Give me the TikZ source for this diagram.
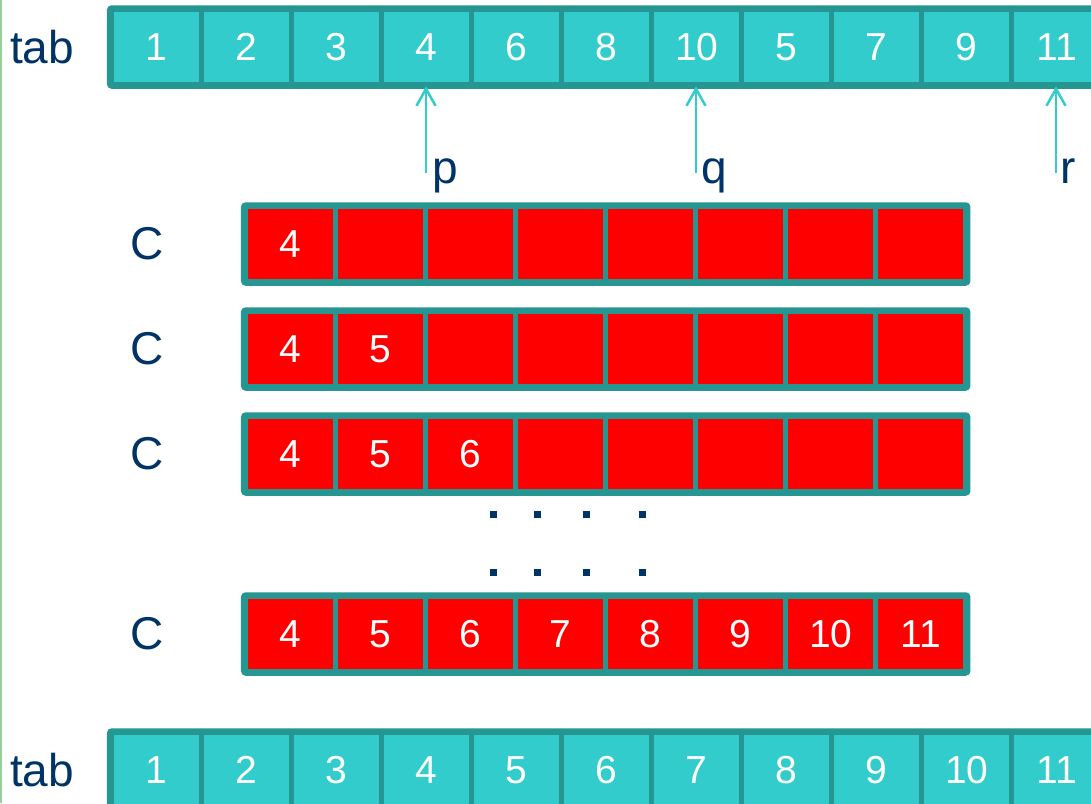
\documentclass[tikz,border=0pt]{standalone}
\usepackage{fontspec}
\setmainfont{Liberation Sans}
\usetikzlibrary{arrows.meta}
\definecolor{tealfill}{HTML}{33CCCC}
\definecolor{tealline}{HTML}{269692}
\definecolor{navy}{HTML}{003366}
\definecolor{slidegreen}{HTML}{99D099}
\tikzset{
  cell/.style={draw=tealline, line width=4.5pt, minimum width=90pt, minimum height=74pt, inner sep=0pt,
    text=white, font=\fontsize{39}{40}\selectfont},
  tabcell/.style={cell, fill=tealfill},
  redcell/.style={cell, fill=red},
  rowframe/.style={draw=tealline, line width=5pt, rounded corners=2.5pt},
  lbl/.style={text=navy, font=\fontsize{46}{48}\selectfont, inner sep=0pt},
  ptr/.style={draw=tealfill, line width=2.5pt, -{Straight Barb[length=17pt,width=19pt,line width=2.5pt]}},
  dot/.style={fill=navy, minimum size=7pt, inner sep=0pt}
}
\begin{document}
\begin{tikzpicture}[x=1pt,y=-1pt]
\useasboundingbox (0,0) rectangle (1091,803);
\fill[white] (0,0) rectangle (1091,803);
\draw[slidegreen, line width=1.5pt] (0.75,0) -- (0.75,803);
% top tab
\node[lbl] (tabtop) at (42,47) {tab};
\foreach \v [count=\i] in {1,2,3,4,6,8,10,5,7,9,11}
  \node[tabcell] (t\i) at ({111.7+90*(\i-1)+45},47) {\v};
\draw[rowframe] (t1.north west) rectangle (t11.south east);
% pointers
\coordinate (pb) at (426,173);
\coordinate (qb) at (696,173);
\coordinate (rb) at (1056,173);
\draw[ptr] (pb) -- (pb |- t4.south);
\draw[ptr] (qb) -- (qb |- t7.south);
\draw[ptr] (rb) -- (rb |- t11.south);
\node[lbl, anchor=base west] (plbl) at (432,183) {p};
\node[lbl, anchor=base west] (qlbl) at (701,183) {q};
\node[lbl, anchor=base west] (rlbl) at (1060,183) {r};
% C rows
\foreach \row/\y/\vals in {a/244/{4,,,,,,,}, b/349/{4,5,,,,,,}, c/454/{4,5,6,,,,,}, d/634/{4,5,6,7,8,9,10,11}} {
  \node[lbl] (\row lbl) at (147,\y) {C};
  \foreach \v [count=\i] in \vals
    \node[redcell] (\row\i) at ({245.7+90*(\i-1)+45},\y) {\v};
  \draw[rowframe] (\row1.north west) rectangle (\row8.south east);
}
% dots
\foreach \x [count=\k] in {493,537,586,642} {
  \node[dot] (du\k) at (\x,514) {};
  \node[dot] (dl\k) at (\x,572) {};
}
% bottom tab
\node[lbl] (tabbot) at (42,770) {tab};
\foreach \v [count=\i] in {1,2,3,4,5,6,7,8,9,10,11}
  \node[tabcell] (s\i) at ({111.7+90*(\i-1)+45},770) {\v};
\draw[rowframe] (s1.north west) rectangle (s11.south east);
\end{tikzpicture}
\end{document}
